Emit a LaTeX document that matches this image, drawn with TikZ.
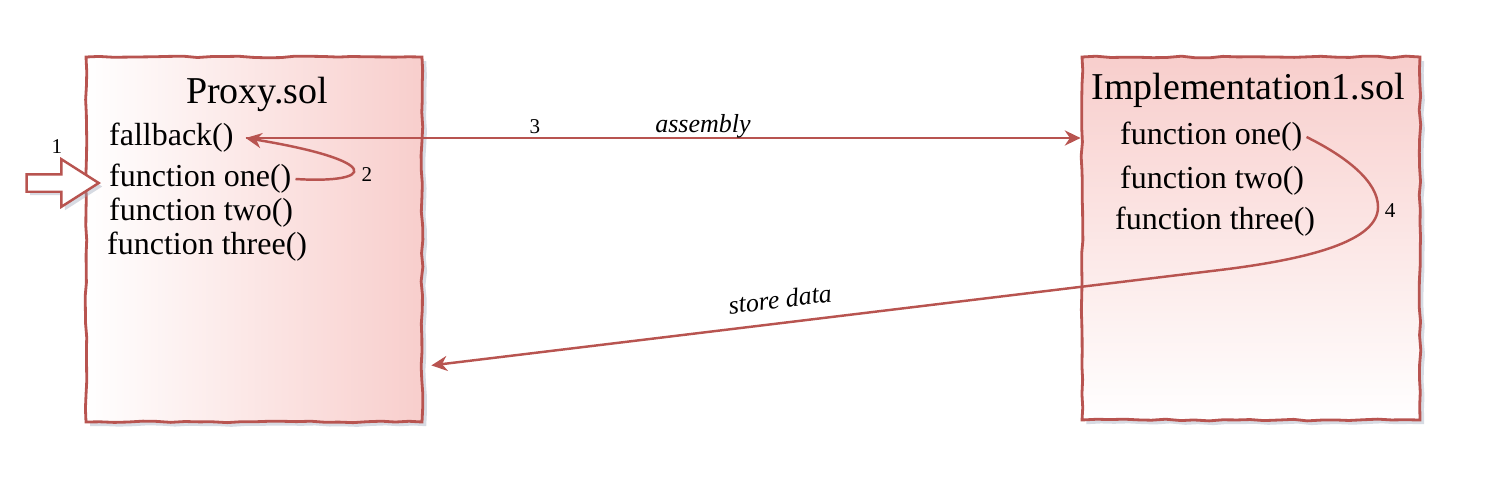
\documentclass[tikz,border=0pt]{standalone}
\usepackage{fontspec}
\setmainfont{Liberation Serif}
\usetikzlibrary{calc, arrows.meta, shapes.arrows, shadows, decorations.pathmorphing}
\definecolor{solStroke}{HTML}{B85450}
\definecolor{solFill}{HTML}{F8CECC}
\definecolor{solShadow}{HTML}{9AA4B8}

\begin{document}
\pgfmathsetseed{7}
\begin{tikzpicture}[
    solbox/.style={draw=solStroke, line width=0.8pt, minimum width=3.36cm, minimum height=3.65cm,
        decorate, decoration={random steps, segment length=4pt, amplitude=0.25pt},
        drop shadow={shadow xshift=1.2pt, shadow yshift=-1.2pt, fill=solShadow, opacity=0.4}},
    fn/.style={anchor=west, inner sep=1pt, font=\fontsize{9.1}{11}\selectfont},
    title/.style={font=\fontsize{10.8}{13}\selectfont},
    lbl/.style={font=\fontsize{7.4}{9}\selectfont\itshape},
    num/.style={font=\fontsize{6}{7}\selectfont},
    link/.style={draw=solStroke, line width=0.7pt, -{Stealth[length=4.5pt, width=4.3pt]}}
]
    \useasboundingbox (0,0) rectangle (15.02,4.76);

    % contract boxes
    \node[solbox, left color=white, right color=solFill] (proxy) at (2.54,2.365) {};
    \node[solbox, top color=solFill, bottom color=white, minimum width=3.38cm, minimum height=3.63cm] (impl) at (12.51,2.375) {};

    % Proxy.sol
    \node[title] (proxytitle) at (2.57,3.82) {Proxy.sol};
    \node[fn] (fallback) at (1.05,3.38) {fallback()};
    \node[fn] (pone) at (1.05,2.97) {function one()};
    \node[fn] (ptwo) at (1.05,2.63) {function two()};
    \node[fn] (pthree) at (1.03,2.29) {function three()};

    % Implementation1.sol
    \node[title] (impltitle) at (12.48,3.86) {Implementation1.sol};
    \node[fn] (ione) at (11.16,3.39) {function one()};
    \node[fn] (itwo) at (11.16,2.95) {function two()};
    \node[fn] (ithree) at (11.11,2.54) {function three()};

    % entry call
    \node[single arrow, draw=solStroke, fill=white, line width=0.7pt, minimum height=0.72cm,
        minimum width=0.45cm, inner sep=0.075cm, single arrow head extend=0.15cm,
        single arrow tip angle=65, anchor=tip,
        drop shadow={shadow xshift=1pt, shadow yshift=-1pt, fill=solShadow, opacity=0.4}] (entry) at (1.01,2.93) {};
    \node[num] (n1) at (0.57,3.29) {1};

    % connectors
    \coordinate (fbtip) at ($(fallback.east)+(0.08,0)$);
    \coordinate (storein) at ($(proxy.south east)+(0.08,0.58)$);
    \draw[link] (fbtip) -- (fbtip -| impl.west);
    \draw[link] (pone.east) .. controls (3.75,2.92) and (3.85,3.15) .. (fbtip);
    \draw[link] (ione.east) .. controls (13.45,3.2) and (13.78,2.95) .. (13.78,2.69)
        .. controls (13.78,2.35) and (13.1,2.17) .. (12.2,2.06) -- (storein);

    \node[num] (n2) at (3.67,3.01) {2};
    \node[num] (n3) at (5.35,3.49) {3};
    \node[lbl] (asm) at (7.03,3.50) {assembly};
    \node[lbl, rotate=7] (store) at (7.80,1.77) {store data};
    \node[num] (n4) at (13.90,2.65) {4};
\end{tikzpicture}
\end{document}
